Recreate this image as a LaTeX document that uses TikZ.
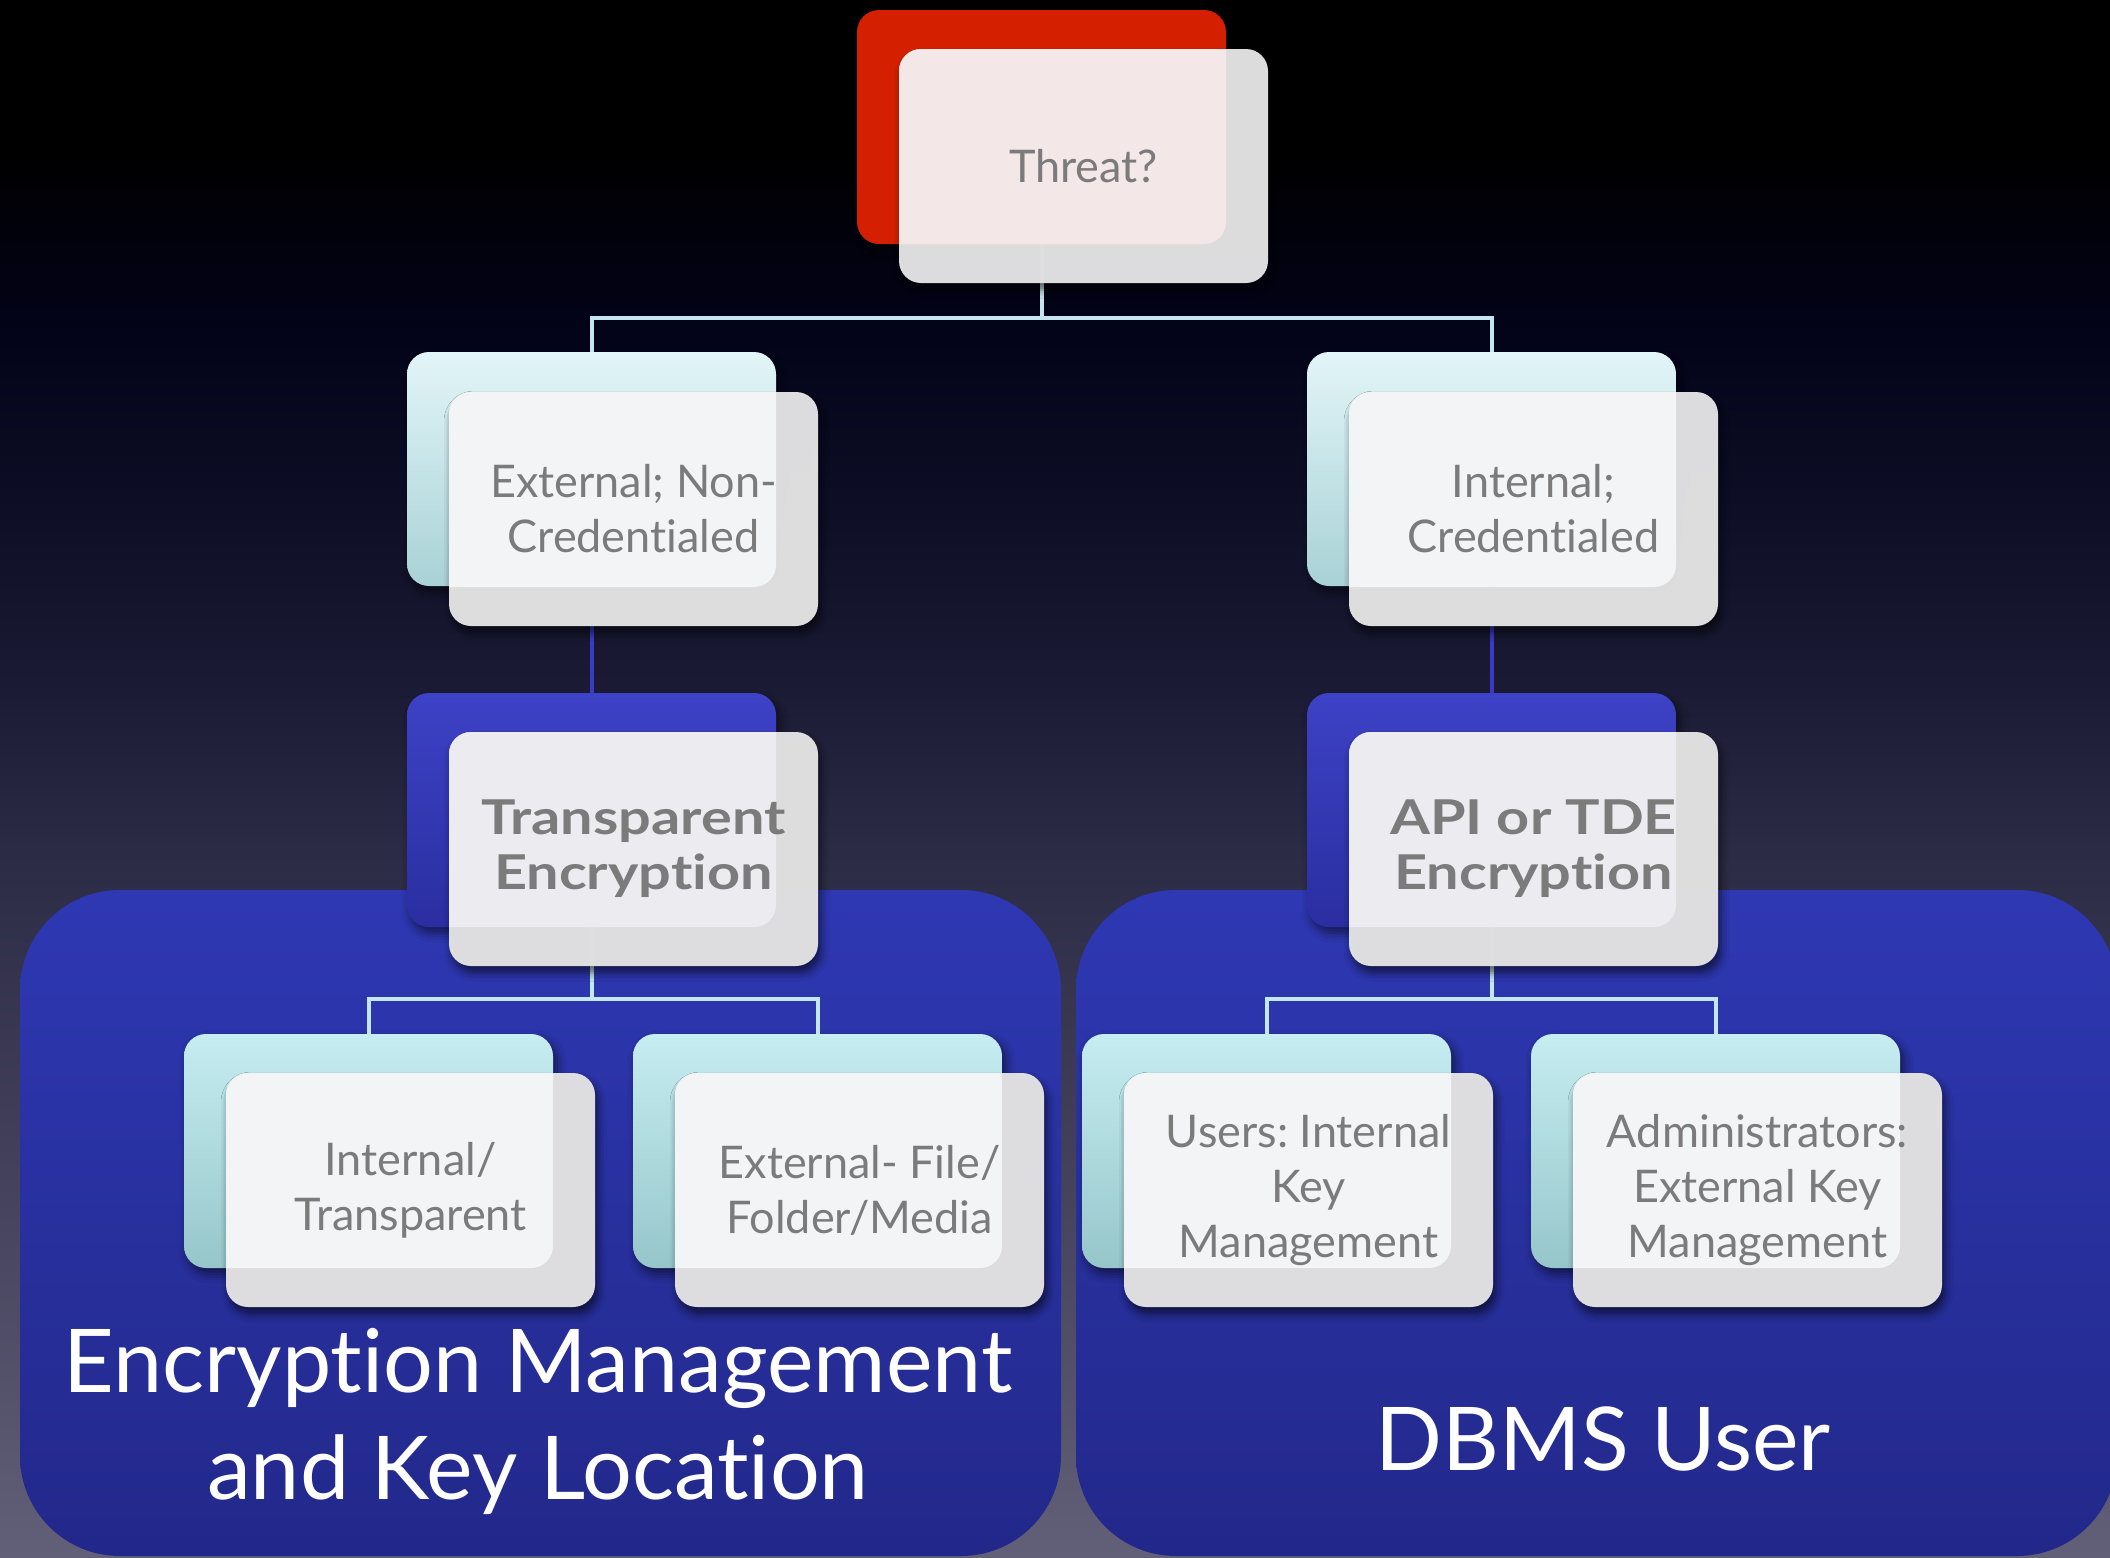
\documentclass[tikz,border=0pt]{standalone}
\usepackage{fontspec}
\setmainfont{Lato}[Ligatures=NoCommon]
\newfontfamily\cardheavy{Lato}[FakeStretch=1.2, Ligatures=NoCommon]
\frenchspacing
\usetikzlibrary{calc,shadows.blur}

% background and zone colours
\definecolor{bgB}{HTML}{03031A}
\definecolor{bgC}{HTML}{0E0E26}
\definecolor{bgD}{HTML}{1A1A34}
\definecolor{bgE}{HTML}{2C2B45}
\definecolor{bgF}{HTML}{45435D}
\definecolor{bgG}{HTML}{625F78}
\definecolor{zoneTop}{HTML}{2E38B3}
\definecolor{zoneBot}{HTML}{22288A}
% card colours
\definecolor{redCard}{HTML}{D42000}
\definecolor{blueCardTop}{HTML}{3D42C6}
\definecolor{blueCardBot}{HTML}{2A2EA0}
\definecolor{cyanTop}{HTML}{E2F5F8}
\definecolor{cyanBot}{HTML}{A9D2D6}
\definecolor{cyanTopB}{HTML}{C6EDF1}
\definecolor{cyanBotB}{HTML}{96C6CA}
\definecolor{faceGray}{HTML}{E4E4E5}
\definecolor{tintRed}{HTML}{F4E8E8}
\definecolor{tintCyan}{HTML}{F3F5F6}
\definecolor{tintBlue}{HTML}{ECECF1}
\definecolor{cardText}{HTML}{7B7B7B}
\definecolor{wireLight}{HTML}{C4E6EE}
\definecolor{wireBlue}{HTML}{3A3AC4}

\pgfdeclareverticalshading{bgfade}{100bp}{color(0bp)=(bgG); color(25bp)=(bgG); color(36.5bp)=(bgF); color(47.7bp)=(bgE); color(53.1bp)=(bgD); color(58.6bp)=(bgC); color(64.1bp)=(bgB); color(70.2bp)=(black); color(100bp)=(black)}

\tikzset{
  backcard/.style={minimum width=369pt, minimum height=234pt, inner sep=0pt, rounded corners=22pt,
    blur shadow={shadow xshift=4pt, shadow yshift=-6pt, shadow blur radius=9pt, shadow opacity=55}},
  redback/.style={backcard, fill=redCard},
  cyanback/.style={backcard, top color=cyanTop, bottom color=cyanBot},
  cyanbackB/.style={backcard, top color=cyanTopB, bottom color=cyanBotB},
  blueback/.style={backcard, top color=blueCardTop, bottom color=blueCardBot},
  frontcard/.style={minimum width=369pt, minimum height=234pt, inner sep=0pt, rounded corners=22pt,
    fill=faceGray, fill opacity=0.97, text opacity=1, text=cardText, align=center,
    font=\fontsize{45}{55}\selectfont,
    blur shadow={shadow xshift=3pt, shadow yshift=-7pt, shadow blur radius=8pt, shadow opacity=60},
    path picture={\fill[#1, rounded corners=22pt]
      ($(path picture bounding box.north west)+(-42,-39)$) rectangle ++(369,234);}},
  heavytext/.style={font=\cardheavy\bfseries\fontsize{48}{55}\selectfont},
  wire/.style={draw=wireLight, line width=4pt},
  wireB/.style={draw=wireBlue, line width=4pt},
  zone/.style={minimum width=1041pt, minimum height=666pt, inner sep=0pt, rounded corners=100pt,
    top color=zoneTop, bottom color=zoneBot},
  zonelabel/.style={text=white, align=center, inner sep=0pt, font=\fontsize{88}{107}\selectfont},
}

\begin{document}
\begin{tikzpicture}[x=1pt, y=-1pt]
\useasboundingbox (0,0) rectangle (2110,1558);
% backdrop
\path[shading=bgfade] (0,0) rectangle (2110,1558);

% the two grouping zones
\node[zone] (zoneL) at (540.5,1223) {};
\node[zone] (zoneR) at (1596.5,1223) {};

% back cards
\node[redback]    (threatB) at (1041.5,127) {};
\node[cyanback]   (extB)    at (591.5,469) {};
\node[cyanback]   (intB)    at (1491.5,469) {};
\node[blueback]   (teB)     at (591.5,810) {};
\node[blueback]   (apiB)    at (1491.5,810) {};
\node[cyanbackB]  (l4aB)    at (368.5,1151) {};
\node[cyanbackB]  (l4bB)    at (817.5,1151) {};
\node[cyanbackB]  (l4cB)    at (1266.5,1151) {};
\node[cyanbackB]  (l4dB)    at (1715.5,1151) {};

% connectors
\coordinate (busTop) at ($(extB.north)+(0,-34)$);
\draw[wire] (threatB.south) -- (threatB.south |- busTop);
\draw[wire] (extB.north) -- (busTop) -| (intB.north);
\draw[wireB] (extB.south) -- (teB.north);
\draw[wireB] (intB.south) -- (apiB.north);
\coordinate (busL) at ($(l4aB.north)+(0,-35)$);
\coordinate (busR) at ($(l4cB.north)+(0,-35)$);
\draw[wire] (teB.south) -- (teB.south |- busL);
\draw[wire] (l4aB.north) -- (busL) -| (l4bB.north);
\draw[wire] (apiB.south) -- (apiB.south |- busR);
\draw[wire] (l4cB.north) -- (busR) -| (l4dB.north);

% front cards
\node[frontcard=tintRed]  (threat) at ($(threatB)+(42,39)$) {Threat?};
\node[frontcard=tintCyan] (ext)    at ($(extB)+(42,40)$) {External; Non-\\Credentialed};
\node[frontcard=tintCyan] (int)    at ($(intB)+(42,40)$) {Internal;\\Credentialed};
\node[frontcard=tintBlue, heavytext] (te)  at ($(teB)+(42,39)$) {Transparent\\Encryption};
\node[frontcard=tintBlue, heavytext] (api) at ($(apiB)+(42,39)$) {API or TDE\\Encryption};
\node[frontcard=tintCyan] (l4a) at ($(l4aB)+(42,39)$) {Internal/\\Transparent};
\node[frontcard=tintCyan] (l4b) at ($(l4bB)+(42,39)$) {External- File/\\Folder/Media};
\node[frontcard=tintCyan] (l4c) at ($(l4cB)+(42,39)$) {Users: Internal\\Key\\Management};
\node[frontcard=tintCyan] (l4d) at ($(l4dB)+(42,39)$) {Administrators:\\External Key\\Management};

% zone captions
\node[zonelabel] (zoneLtext) at (538,1421) {Encryption Management\\and Key Location};
\node[zonelabel, anchor=base] (zoneRtext) at (1603,1470) {DBMS User};
\end{tikzpicture}
\end{document}
